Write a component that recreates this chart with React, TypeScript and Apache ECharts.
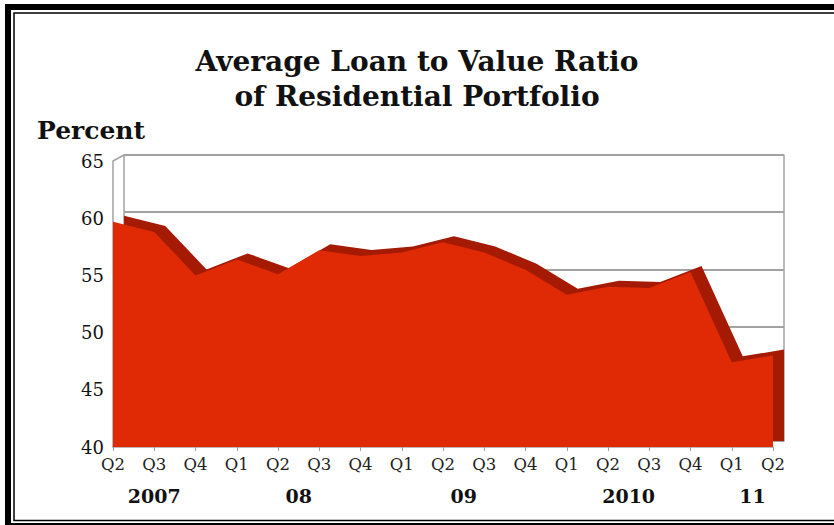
import React, { useEffect, useRef } from "react";
import * as echarts from "echarts";

const quarters = ["Q2", "Q3", "Q4", "Q1", "Q2", "Q3", "Q4", "Q1", "Q2", "Q3", "Q4", "Q1", "Q2", "Q3", "Q4", "Q1", "Q2"];
const ltvValues = [59.7, 58.8, 55.0, 56.4, 55.1, 57.2, 56.7, 57.0, 57.9, 57.0, 55.5, 53.3, 54.0, 53.9, 55.3, 47.4, 48.0];
const yearLabels = ["2007", "08", "09", "2010", "11"];
const yearPositions = [1, 4.5, 8.5, 12.5, 15.5];
const titleLines = ["Average Loan to Value Ratio", "of Residential Portfolio"];
const yMin = 40;
const yMax = 65;
const yStep = 5;

const FONT = "DejaVu Serif";

export default function App() {
  const ref = useRef<HTMLDivElement>(null);
  useEffect(() => {
    if (!ref.current) return;
    const chart = echarts.init(ref.current, null, { renderer: "svg" });
    const grey = "#a2a2a2";
    const option: any = {
      animation: false,
      backgroundColor: "#ffffff",
      textStyle: { fontFamily: FONT },
      title: [
        {
          text: titleLines[0],
          left: "center",
          top: 42,
          textStyle: { fontFamily: FONT, fontWeight: "bold", fontSize: 28, color: "#111" },
        },
        {
          text: titleLines[1],
          left: "center",
          top: 77,
          textStyle: { fontFamily: FONT, fontWeight: "bold", fontSize: 28, color: "#111" },
        },
        {
          text: "Percent",
          left: 32,
          top: 113,
          textStyle: { fontFamily: FONT, fontWeight: "bold", fontSize: 25, color: "#111" },
        },
      ],
      grid: [
        { left: 113, right: 61, top: 161, bottom: 78 },
        { left: 124, right: 50, top: 155, bottom: 84 },
      ],
      xAxis: [
        {
          type: "category",
          gridIndex: 0,
          data: quarters,
          boundaryGap: false,
          axisLine: { show: true, lineStyle: { color: grey, width: 1.5 } },
          axisTick: { show: true, length: 4, lineStyle: { color: grey } },
          axisLabel: { fontFamily: FONT, fontSize: 16.5, color: "#222", margin: 9, interval: 0 },
          splitLine: { show: false },
        },
        {
          type: "value",
          gridIndex: 0,
          min: 0,
          max: quarters.length - 1,
          position: "bottom",
          offset: 31,
          axisLine: { show: false },
          axisTick: { show: false },
          splitLine: { show: false },
          axisLabel: {
            customValues: yearPositions,
            formatter: (v: number) => {
              const i = yearPositions.indexOf(v);
              return i >= 0 ? yearLabels[i] : "";
            },
            fontFamily: FONT,
            fontWeight: "bold",
            fontSize: 19,
            color: "#111",
            margin: 8,
          },
        },
        {
          type: "category",
          gridIndex: 1,
          data: quarters,
          boundaryGap: false,
          show: false,
        },
      ],
      yAxis: [
        {
          type: "value",
          gridIndex: 0,
          min: yMin,
          max: yMax,
          interval: yStep,
          axisLine: { show: true, lineStyle: { color: grey, width: 1.5 } },
          axisTick: { show: false },
          splitLine: { show: false },
          axisLabel: { fontFamily: FONT, fontSize: 18, color: "#111", margin: 9 },
        },
        {
          type: "value",
          gridIndex: 1,
          min: yMin,
          max: yMax,
          interval: yStep,
          axisLine: { show: true, lineStyle: { color: grey, width: 1.5 } },
          axisTick: { show: false },
          axisLabel: { show: false },
          splitLine: { show: true, lineStyle: { color: grey, width: 2 } },
        },
        {
          type: "value",
          gridIndex: 1,
          position: "right",
          min: yMin,
          max: yMax,
          interval: yStep,
          axisLine: { show: true, lineStyle: { color: grey, width: 1.5 } },
          axisTick: { show: false },
          axisLabel: { show: false },
          splitLine: { show: false },
        },
      ],
      series: [
        {
          type: "line",
          xAxisIndex: 2,
          yAxisIndex: 1,
          data: ltvValues,
          symbol: "none",
          lineStyle: { width: 0 },
          areaStyle: { color: "#a51a03", opacity: 1 },
          z: 2,
        },
        {
          type: "line",
          xAxisIndex: 0,
          yAxisIndex: 0,
          data: ltvValues,
          symbol: "none",
          lineStyle: { width: 0 },
          areaStyle: { color: "#df2a05", opacity: 1 },
          z: 3,
        },
      ],
      graphic: [
        {
          type: "line",
          shape: { x1: 113, y1: 161, x2: 124, y2: 155 },
          style: { stroke: grey, lineWidth: 1.5 },
          z: 1,
        },
        {
          type: "rect",
          shape: { x: 8, y: 7, width: 840, height: 519 },
          style: { fill: "none", stroke: "#000", lineWidth: 6 },
          z: 10,
        },
        {
          type: "rect",
          shape: { x: 14, y: 13, width: 840, height: 507.5 },
          style: { fill: "none", stroke: "#000", lineWidth: 1.5 },
          z: 10,
        },
      ],
    };
    chart.setOption(option);
    return () => chart.dispose();
  }, []);
  return (
    <div
      ref={ref}
      style={{ position: "fixed", left: 0, top: 0, width: 834, height: 525 }}
    />
  );
}
